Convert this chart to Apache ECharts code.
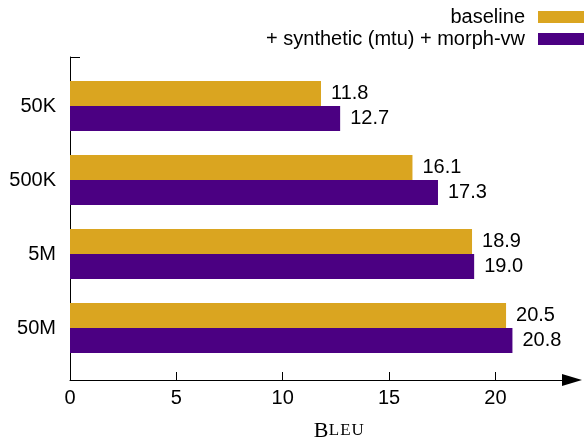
<!DOCTYPE html>
<html><head><meta charset="utf-8">
<script src="https://cdn.jsdelivr.net/npm/echarts@6/dist/echarts.min.js"></script>
<style>html,body{margin:0;padding:0;background:#fff}#c{width:584px;height:443px}</style>
</head><body><div id="c"></div>
<script>
const categories = ['50K', '500K', '5M', '50M'];
const baseline = [11.8, 16.1, 18.9, 20.5];
const synthetic = [12.7, 17.3, 19.0, 20.8];
const xTicks = [0, 5, 10, 15, 20];
const seriesNames = ['baseline', '+ synthetic (mtu) + morph-vw'];
const X_MAX = 23.6;
const font = '"Liberation Sans", Arial, sans-serif';
const serif = '"Liberation Serif", "Times New Roman", serif';
const colors = ['#DAA520', '#4B0082'];

const chart = echarts.init(document.getElementById('c'), null, {renderer: 'canvas'});
const labelCfg = {show: true, position: 'right', distance: 10, fontFamily: font, fontSize: 20, color: '#000',
  formatter: p => p.value.toFixed(1)};
chart.setOption({
  animation: false,
  legend: {orient: 'vertical', right: 0, top: 7, padding: 0, align: 'right', itemWidth: 46, itemHeight: 12, itemGap: 2,
    icon: 'rect', data: seriesNames,
    textStyle: {fontFamily: font, fontSize: 20, color: '#000', lineHeight: 20, padding: [0, 8, 0, 0]}},
  grid: [
    {left: 70, right: 12, top: 69, bottom: 78, containLabel: false, outerBoundsMode: 'none'},
    {left: 70, right: 12, top: 57, bottom: 63, containLabel: false, outerBoundsMode: 'none'}
  ],
  xAxis: [
    {gridIndex: 0, type: 'value', min: 0, max: X_MAX, show: false},
    {gridIndex: 1, type: 'value', min: 0, max: X_MAX,
      axisLine: {show: true, lineStyle: {color: '#000', width: 1}, symbol: ['none', 'triangle'],
        symbolSize: [12, 20]},
      axisTick: {show: true, inside: true, length: 8, customValues: xTicks, lineStyle: {color: '#000'}},
      axisLabel: {customValues: xTicks, fontFamily: font, fontSize: 20, color: '#000', margin: 8},
      splitLine: {show: false},
      name: '{a|B}{b|L}{b|E}{b|U}', nameLocation: 'middle', nameGap: 40,
      nameTextStyle: {padding: [0, 0, 0, 36], rich: {
        a: {fontFamily: serif, fontSize: 22, color: '#000'},
        b: {fontFamily: serif, fontSize: 17, color: '#000', padding: [0, 0.5, 0, 0.5]}}}
    }
  ],
  yAxis: [
    {gridIndex: 0, type: 'category', data: categories, inverse: true,
      axisLine: {show: false}, axisTick: {show: false},
      axisLabel: {fontFamily: font, fontSize: 20, color: '#000', margin: 14}},
    {gridIndex: 1, type: 'value', min: 0, max: 1, interval: 1,
      axisLine: {show: true, lineStyle: {color: '#000', width: 1}},
      axisTick: {show: true, inside: true, length: 10, lineStyle: {color: '#000'}},
      axisLabel: {show: false}, splitLine: {show: false}}
  ],
  series: [
    {name: seriesNames[0], type: 'bar', xAxisIndex: 0, yAxisIndex: 0, data: baseline, barWidth: 25, barGap: '0%',
      itemStyle: {color: colors[0]}, label: labelCfg},
    {name: seriesNames[1], type: 'bar', xAxisIndex: 0, yAxisIndex: 0, data: synthetic, barWidth: 25, barGap: '0%',
      itemStyle: {color: colors[1]}, label: labelCfg}
  ]
});
</script></body></html>
